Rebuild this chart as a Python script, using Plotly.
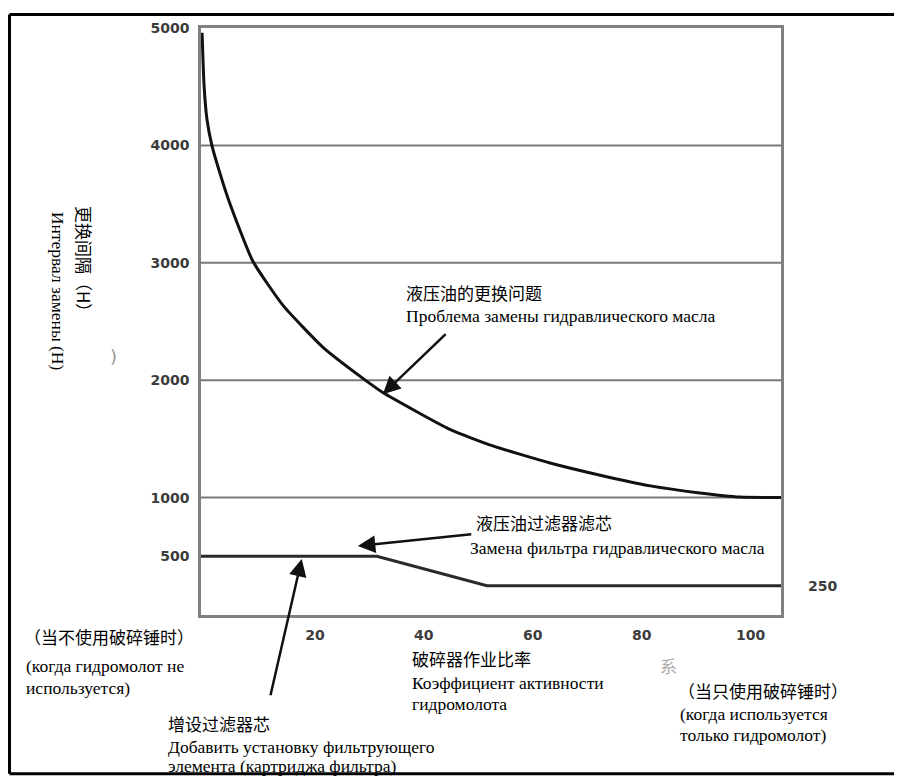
import plotly.graph_objects as go

# breaker operating ratio (%) -> hydraulic oil change interval (H)
ratio_oil = [0.2, 0.55, 1.1, 2.0, 3.5, 5.3, 9.5, 15.1, 22.4, 30.1, 33.4, 45.7, 53.6, 64.1, 73.3, 82.5, 91.6, 99, 106.5]
hours_oil = [4960, 4520, 4220, 4000, 3760, 3505, 3015, 2635, 2280, 2003, 1895, 1581, 1440, 1295, 1191, 1100, 1040, 1005, 1000]

# hydraulic oil filter element
ratio_filter = [0, 32.3, 52.5, 106.5]
hours_filter = [500, 500, 250, 250]

x_ticks = [20, 40, 60, 80, 100]
y_ticks_left = [500, 1000, 2000, 3000, 4000, 5000]
y_ticks_right = [250]
grid_hours = [1000, 2000, 3000, 4000]

# the page adds an 8px body margin, so the figure is 8px smaller and all
# positions below are page pixels of the reference
OFF = 8
FW, FH = 902 - OFF, 778 - OFF
L, T, W, H = 201, 23, 580, 592   # plot box in page pixels


def pp(x, y):
    # page pixel -> paper coords
    return (x - L) / W, (T + H - y) / H


CJK = "Noto Sans CJK SC"
SERIF = "Liberation Serif"
RU = 17.5
TICKFONT = dict(family="DejaVu Sans", size=14, color="#3c3c3c", weight="bold")

fig = go.Figure()
fig.add_trace(go.Scatter(x=ratio_oil, y=hours_oil, mode="lines",
                         line=dict(color="#111", width=3, shape="spline", smoothing=0.5),
                         hoverinfo="skip"))
fig.add_trace(go.Scatter(x=ratio_filter, y=hours_filter, mode="lines",
                         line=dict(color="#2a2a2a", width=3), hoverinfo="skip"))
fig.add_trace(go.Scatter(x=[0], y=[250], yaxis="y2", mode="markers",
                         marker=dict(opacity=0), hoverinfo="skip"))

for h in grid_hours:
    fig.add_shape(type="line", xref="paper", x0=0, x1=1, yref="y", y0=h, y1=h,
                  line=dict(color="#7a7a7a", width=2), layer="below")

# outer scan border
x0, y0 = pp(9.5, 9.5)
x1, y1 = pp(898, 775)
xr, _ = pp(902, 0)
fig.add_shape(type="line", xref="paper", yref="paper", x0=x0, x1=xr, y0=y0, y1=y0, line=dict(color="black", width=3))
fig.add_shape(type="line", xref="paper", yref="paper", x0=x0, x1=x0, y0=y0, y1=y1, line=dict(color="black", width=3))
fig.add_shape(type="line", xref="paper", yref="paper", x0=x0, x1=xr, y0=y1, y1=y1, line=dict(color="black", width=3))
fig.add_shape(type="line", xref="paper", yref="paper", x0=x1, x1=x1, y0=y0, y1=y1, line=dict(color="#aaa", width=1.5))

# arrows (tip -> tail)
arrows = [
    (33.4, 1880, 45.2, 2405),
    (28.8, 588, 49.9, 689),
    (18.5, 478, 12.7, -697),
]
for tx, ty, ax, ay in arrows:
    fig.add_annotation(x=tx, y=ty, ax=ax, ay=ay, xref="x", yref="y", axref="x", ayref="y",
                       text="", showarrow=True, arrowhead=2, arrowsize=1.4, arrowwidth=2.5,
                       arrowcolor="#111")


def label(text, x, y, size, family, color="black", xanchor="left", angle=0):
    px_, py_ = pp(x, y)
    fig.add_annotation(x=px_, y=py_, xref="paper", yref="paper", text=text, showarrow=False,
                       xanchor=xanchor, yanchor="middle", textangle=angle,
                       font=dict(family=family, size=size, color=color))


label("液压油的更换问题", 404, 290, 17, CJK)
label("Проблема замены гидравлического масла", 404, 313, RU, SERIF)
label("液压油过滤器滤芯", 474, 522, 17, CJK)
label("Замена фильтра гидравлического масла", 468, 547, RU, SERIF)
label("（当不使用破碎锤时）", 22, 637, 17, CJK)
label("(когда гидромолот не", 24, 666, RU, SERIF)
label("используется)", 24, 689, RU, SERIF)
label("破碎器作业比率", 410, 659, 17, CJK)
label("Коэффициент активности", 410, 684, RU, SERIF)
label("гидромолота", 410, 705, RU, SERIF)
label("增设过滤器芯", 166, 724, 17, CJK)
label("Добавить установку фильтрующего", 166, 748, RU, SERIF)
label("элемента (картриджа фильтра)", 166, 767, RU, SERIF)
label("（当只使用破碎锤时）", 676, 691, 17, CJK)
label("(когда используется", 678, 715, RU, SERIF)
label("только гидромолот)", 678, 736, RU, SERIF)
label("更换间隔（H）", 84, 260, 17, CJK, xanchor="center", angle=90)
label("Интервал замены (H)", 58, 288, RU, SERIF, xanchor="center", angle=90)
label(")", 113, 354, 18, "DejaVu Sans", color="#9a9a9a", xanchor="center")
label("系", 668, 666, 17, CJK, color="#aaa", xanchor="center")

fig.update_layout(
    width=FW, height=FH,
    margin=dict(l=L - OFF, r=FW - (L - OFF) - W, t=T - OFF, b=FH - (T - OFF) - H),
    paper_bgcolor="white", plot_bgcolor="white",
    showlegend=False,
    xaxis=dict(range=[0, 106.5], tickvals=x_ticks, showgrid=False, zeroline=False,
               showline=True, mirror=True, linecolor="#808080", linewidth=2.5,
               ticks="", tickfont=TICKFONT, ticklabelstandoff=5, ticklabelshift=5),
    yaxis=dict(range=[0, 5000], tickvals=y_ticks_left, showgrid=False, zeroline=False,
               showline=True, mirror=True, linecolor="#808080", linewidth=2.5,
               ticks="", tickfont=TICKFONT, ticklabelstandoff=6),
    yaxis2=dict(range=[0, 5000], overlaying="y", side="right", tickvals=y_ticks_right,
                showgrid=False, zeroline=False, showline=False, ticks="",
                tickfont=TICKFONT, ticklabelstandoff=26),
)

fig.write_html("out.html")
